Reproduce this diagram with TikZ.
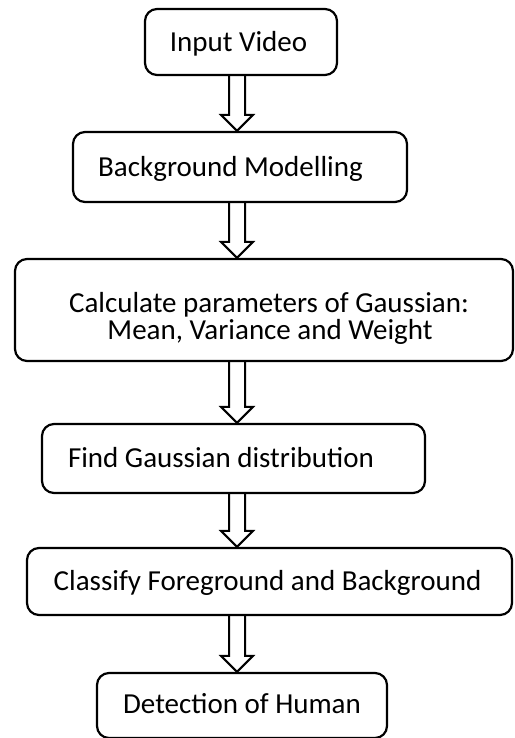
\documentclass[tikz,border=0pt]{standalone}
\usepackage{fontspec}
\setmainfont{Carlito}
\usetikzlibrary{calc}
\tikzset{
  box/.style={draw=black, line width=2.2pt, rounded corners=12pt, inner sep=0pt, fill=none},
  lbl/.style={anchor=base, inner sep=0pt, font=\fontsize{29}{34}\selectfont},
  arrowline/.style={draw=black, line width=2pt, line join=miter}
}
\newcommand\flowarrow[2]{%
  \draw[arrowline] ($(ax |- #1.south)+(-8,0)$) -- ($(ax |- #2.north)+(-8,-16)$)
    -- ($(ax |- #2.north)+(-16,-16)$) -- (ax |- #2.north)
    -- ($(ax |- #2.north)+(16,-16)$) -- ($(ax |- #2.north)+(8,-16)$)
    -- ($(ax |- #1.south)+(8,0)$);}
\begin{document}
\begin{tikzpicture}[x=1pt,y=-1pt]
\useasboundingbox (0,0) rectangle (514,738);
\coordinate (ax) at (237,0);
% boxes
\node[box, minimum width=192pt, minimum height=66pt] (b1) at (241,42) {};
\node[box, minimum width=334pt, minimum height=70pt] (b2) at (240,167) {};
\node[box, minimum width=498pt, minimum height=102pt] (b3) at (264,310) {};
\node[box, minimum width=383pt, minimum height=69pt] (b4) at (233.5,458.5) {};
\node[box, minimum width=485pt, minimum height=67pt] (b5) at (269.5,581.5) {};
\node[box, minimum width=290pt, minimum height=65pt] (b6) at (242,705.5) {};
% texts
\node[lbl] (t1) at (238.5,52) {Input Video};
\node[lbl] (t2) at (230.5,177) {Background Modelling};
\node[lbl] (t3a) at (269,312) {Calculate parameters of Gaussian:};
\node[lbl] (t3b) at (270,339) {Mean, Variance and Weight};
\node[lbl] (t4) at (221,467) {Find Gaussian distribution};
\node[lbl] (t5) at (267.5,590) {Classify Foreground and Background};
\node[lbl] (t6) at (242,713) {Detection of Human};
% arrows
\flowarrow{b1}{b2}
\flowarrow{b2}{b3}
\flowarrow{b3}{b4}
\flowarrow{b4}{b5}
\flowarrow{b5}{b6}
\end{tikzpicture}
\end{document}
